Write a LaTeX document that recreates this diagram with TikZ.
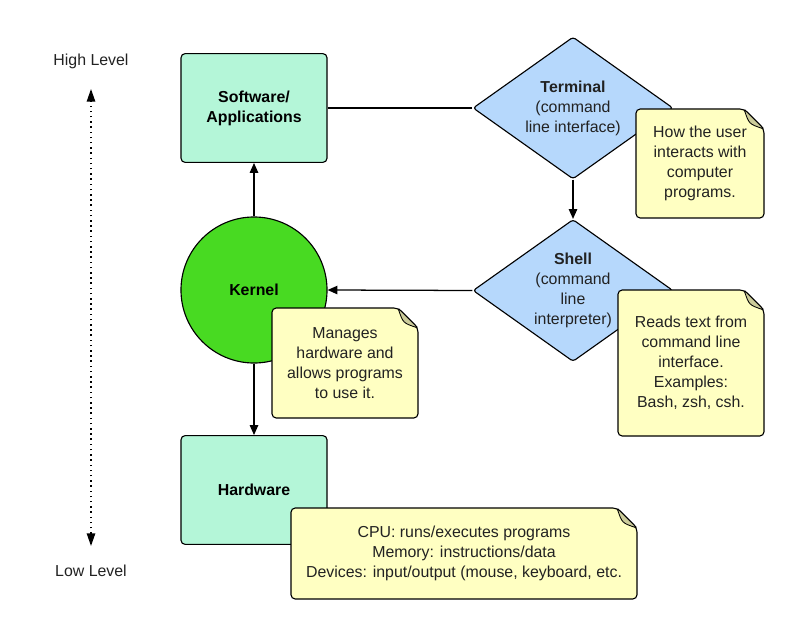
\documentclass[tikz,border=0pt]{standalone}
\usepackage{fontspec}
\setmainfont{Liberation Sans}
\usetikzlibrary{arrows.meta,shapes.geometric}
\definecolor{mint}{HTML}{B4F6D8}
\definecolor{kerngreen}{HTML}{48DA22}
\definecolor{diamblue}{HTML}{B6D8FC}
\definecolor{noteyel}{HTML}{FFFFC2}
\definecolor{foldtan}{HTML}{CCCC9A}
\definecolor{inkgray}{HTML}{222222}
\newcommand{\basefont}{\fontsize{11.3}{14.2}\selectfont}

\tikzset{
  block/.style={draw=black,line width=0.8pt,rounded corners=3pt,fill=mint,
    minimum width=3.65cm,minimum height=2.72cm,align=center,font=\basefont\bfseries},
  choice/.style={diamond,draw=black,line width=0.8pt,rounded corners=2pt,fill=diamblue,
    aspect=1.41,inner sep=0pt,minimum width=5cm,minimum height=3.55cm,
    align=center,text=inkgray,font=\basefont},
  core/.style={circle,draw=black,line width=0.8pt,fill=kerngreen,
    minimum size=3.65cm,font=\basefont\bfseries},
  link/.style={line width=0.9pt,-{Triangle[length=7pt,width=6pt]}},
  notebody/.style={draw=black,line width=0.8pt,fill=noteyel,rounded corners=3pt},
  notefold/.style={draw=black,line width=0.6pt,fill=foldtan,rounded corners=1pt},
  notetext/.style={align=center,text=inkgray,font=\basefont,inner sep=0pt},
  levellabel/.style={text=inkgray,font=\basefont},
  levelarrow/.style={line width=1pt,dash pattern=on 1.1pt off 2.6pt,
    {Triangle[length=9pt,width=6pt]}-{Triangle[length=9pt,width=6pt]}}
}

% sticky note: name, left, top, right, bottom, text (pixel units)
\newcommand{\dognote}[6]{%
  \filldraw[notebody] (#2,#5) -- (#2,#3) -- ({#4-20},#3) -- (#4,{#3+20}) -- (#4,#5) -- cycle;
  \filldraw[notefold] ({#4-20},#3) .. controls ({#4-15},{#3+15}) .. (#4,{#3+20}) -- cycle;
  \node[notetext] (#1) at ({(#2+#4)/2},{(#3+#5)/2}) {#6};}

\begin{document}
\begin{tikzpicture}[x=0.025cm,y=-0.025cm]
  \useasboundingbox (0,0) rectangle (800,636);

  % level scale on the left
  \node[levellabel] (high) at (91,61) {High Level};
  \node[levellabel] (low) at (91,571) {Low Level};
  \coordinate (uptip) at (91,89);
  \coordinate (downtip) at (91,546);
  \draw[levelarrow] (downtip) -- (uptip);

  % main blocks
  \node[block] (soft) at (254,108) {Software/\\Applications};
  \node[core] (kern) at (254,290) {Kernel};
  \node[block] (hard) at (254,490) {Hardware};

  \node[choice] (term) at (573,108) {\textbf{Terminal}\\(command\\line interface)};
  \node[choice] (shell) at (573,290.5) {\textbf{Shell}\\(command\\line\\interpreter)};

  % connectors
  \draw[line width=0.9pt] (soft.east) -- (term.west);
  \draw[link] (term.south) -- (shell.north);
  \draw[link] (shell.west) -- (kern.east);
  \draw[link] (kern.north) -- (soft.south);
  \draw[link] (kern.south) -- (hard.north);

  % notes
  \dognote{termnote}{636}{109}{764}{218}{How the user\\interacts with\\computer\\programs.}
  \dognote{shellnote}{618}{290}{764}{436}{Reads text from\\command line\\interface.\\Examples:\\Bash, zsh, csh.}
  \dognote{kernnote}{272}{308}{418}{418}{Manages\\hardware and\\allows programs\\to use it.}
  \dognote{hardnote}{291}{508}{637}{599}{CPU: runs/executes programs\\Memory: instructions/data\\Devices: input/output (mouse, keyboard, etc.}
\end{tikzpicture}
\end{document}
